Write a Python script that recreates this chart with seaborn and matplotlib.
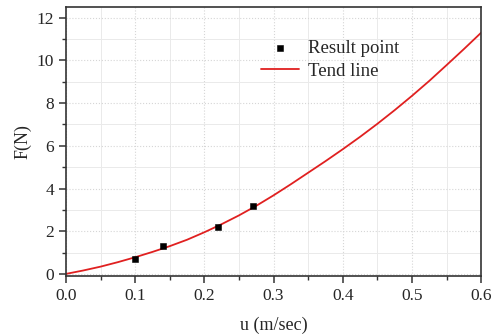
import matplotlib
matplotlib.use('Agg')
import numpy as np
import pandas as pd
import seaborn as sns
import matplotlib.pyplot as plt
from matplotlib.ticker import MultipleLocator

# measured result points
u_points = [0.10, 0.14, 0.22, 0.27]
f_points = [0.70, 1.30, 2.20, 3.20]

# trend line
u_trend = [0.000, 0.025, 0.050, 0.075, 0.100, 0.125, 0.150, 0.175, 0.200, 0.225,
           0.250, 0.275, 0.300, 0.325, 0.350, 0.375, 0.400, 0.425, 0.450, 0.475,
           0.500, 0.525, 0.550, 0.575, 0.600]
f_trend = [0.00, 0.16, 0.34, 0.55, 0.78, 1.03, 1.30, 1.60, 1.95, 2.33,
           2.74, 3.19, 3.68, 4.20, 4.74, 5.28, 5.84, 6.42, 7.03, 7.67,
           8.34, 9.04, 9.78, 10.53, 11.30]

x_ticks = [0.0, 0.1, 0.2, 0.3, 0.4, 0.5, 0.6]
y_ticks = [0, 2, 4, 6, 8, 10, 12]

pts = pd.DataFrame({'u': u_points, 'F': f_points})
trend = pd.DataFrame({'u': u_trend, 'F': f_trend})

sns.set_theme(style='white')
plt.rcParams['font.family'] = ['Liberation Serif', 'DejaVu Serif']

fig = plt.figure(figsize=(4.92, 3.35), dpi=100)
ax = fig.add_axes([0.134, 0.176, 0.844, 0.803])

sns.lineplot(data=trend, x='u', y='F', color='#e02020', lw=1.3, ax=ax, label='Tend line', zorder=2)
sns.scatterplot(data=pts, x='u', y='F', marker='s', s=24, color='black', edgecolor='black',
                ax=ax, label='Result point', zorder=3)

ax.set_xlim(0, 0.6)
ax.set_ylim(-0.1, 12.5)
ax.set_xticks(x_ticks)
ax.set_xticklabels([f'{v:.1f}' for v in x_ticks])
ax.set_yticks(y_ticks)
ax.xaxis.set_minor_locator(MultipleLocator(0.05))
ax.yaxis.set_minor_locator(MultipleLocator(1))

ax.grid(True, which='major', color='#d6d6d6', lw=0.8, ls=':')
ax.grid(True, which='minor', color='#eaeaea', lw=0.7, ls='-')
ax.set_axisbelow(True)

ax.tick_params(axis='both', which='major', direction='out', length=5, width=1.1,
               labelsize=12.5, color='#333333', bottom=True, left=True)
ax.tick_params(axis='both', which='minor', direction='out', length=3, width=1.0,
               color='#333333', bottom=True, left=True)
for sp in ax.spines.values():
    sp.set_color('#333333')
    sp.set_linewidth(1.2)

ax.set_xlabel('u (m/sec)', fontsize=13, labelpad=9)
ax.set_ylabel('F(N)', fontsize=13, labelpad=4)

h, l = ax.get_legend_handles_labels()
order = [l.index('Result point'), l.index('Tend line')]
ax.legend([h[i] for i in order], [l[i] for i in order], loc='upper left',
          bbox_to_anchor=(0.452, 0.905), frameon=False, fontsize=13.5,
          handlelength=2.0, handletextpad=0.5, labelspacing=0.3, borderaxespad=0)

fig.savefig('out.png', dpi=100)
